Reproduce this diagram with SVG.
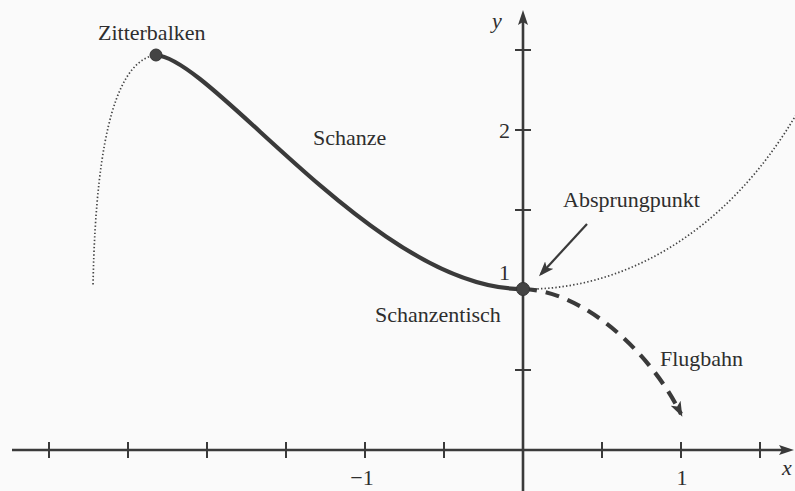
<svg xmlns="http://www.w3.org/2000/svg" width="795" height="491" viewBox="0 0 795 491">
  <defs>
    <style>
      .txt { font-family: "Liberation Serif", "Times New Roman", serif; font-size: 22px; fill: #2e2e2e; }
      .ital { font-style: italic; }
      .axis { stroke: #3a3a3a; stroke-width: 2.6; fill: none; }
      .tick { stroke: #3a3a3a; stroke-width: 2; fill: none; }
      .solid { stroke: #3a3a3a; stroke-width: 4.2; fill: none; stroke-linecap: round; }
      .dotted { stroke: #444; stroke-width: 1.7; fill: none; stroke-dasharray: 1.4 2.2; }
      .dashed { stroke: #3a3a3a; stroke-width: 4.2; fill: none; stroke-dasharray: 14 9; }
      .pointer { stroke: #3a3a3a; stroke-width: 2.2; fill: none; }
      .dot { fill: #444; stroke: #333; stroke-width: 1; }
    </style>
    <marker id="axArrow" viewBox="0 0 15 10" refX="7" refY="5" markerWidth="15" markerHeight="10" orient="auto" markerUnits="userSpaceOnUse">
      <path d="M0,0 L15,5 L0,10 L3,5 z" fill="#3a3a3a"/>
    </marker>
    <marker id="ptrArrow" viewBox="0 0 15 11" refX="12" refY="5.5" markerWidth="15" markerHeight="11" orient="auto" markerUnits="userSpaceOnUse">
      <path d="M0,0 L15,5.5 L0,11 L3.5,5.5 z" fill="#3a3a3a"/>
    </marker>
  </defs>

  <rect x="0" y="0" width="795" height="491" fill="#fafafa"/>

  <!-- coordinate system -->
  <g id="axes">
    <line class="axis" x1="12" y1="450" x2="786" y2="450" marker-end="url(#axArrow)"/>
    <line class="axis" x1="523" y1="491" x2="523" y2="18" marker-end="url(#axArrow)"/>
    <g id="x-ticks">
      <line class="tick" x1="49" y1="442" x2="49" y2="458"/>
      <line class="tick" x1="128" y1="442" x2="128" y2="458"/>
      <line class="tick" x1="207" y1="442" x2="207" y2="458"/>
      <line class="tick" x1="286" y1="442" x2="286" y2="458"/>
      <line class="tick" x1="365" y1="442" x2="365" y2="458"/>
      <line class="tick" x1="444" y1="442" x2="444" y2="458"/>
      <line class="tick" x1="602" y1="442" x2="602" y2="458"/>
      <line class="tick" x1="681" y1="442" x2="681" y2="458"/>
      <line class="tick" x1="760" y1="442" x2="760" y2="458"/>
    </g>
    <g id="y-ticks">
      <line class="tick" x1="515" y1="370" x2="531" y2="370"/>
      <line class="tick" x1="515" y1="290" x2="531" y2="290"/>
      <line class="tick" x1="515" y1="210" x2="531" y2="210"/>
      <line class="tick" x1="515" y1="130" x2="531" y2="130"/>
      <line class="tick" x1="515" y1="50" x2="531" y2="50"/>
    </g>
    <text class="txt ital" x="497" y="28" text-anchor="middle">y</text>
    <text class="txt ital" x="782" y="475">x</text>
    <text class="txt" x="510" y="138" text-anchor="end">2</text>
    <text class="txt" x="510" y="280" text-anchor="end">1</text>
    <text class="txt" x="362" y="485" text-anchor="middle">−1</text>
    <text class="txt" x="682" y="485" text-anchor="middle">1</text>
  </g>

  <!-- curves and pointers -->
  <g id="connectors">
    <path id="left-dotted" class="dotted" d="M156,55 C120,60 96,125 93,286"/>
    <path id="right-dotted" class="dotted" d="M523,289 C615,291 725,240 800,108"/>
    <path id="schanze" class="solid" d="M156,55 C215,60 378,290 523,289"/>
    <path id="flugbahn" class="dashed" d="M523,289 C580,290 648,348 681,414" marker-end="url(#ptrArrow)"/>
    <line id="absprung-pointer" class="pointer" x1="587" y1="224" x2="541" y2="274" marker-end="url(#ptrArrow)"/>
  </g>

  <g id="zitterbalken">
    <circle class="dot" cx="156" cy="55" r="6"/>
    <text class="txt" x="98" y="40">Zitterbalken</text>
  </g>
  <g id="schanzentisch">
    <circle class="dot" cx="523" cy="289" r="6.5"/>
    <text class="txt" x="375" y="322">Schanzentisch</text>
  </g>
  <g id="schanze-label">
    <text class="txt" x="313" y="145">Schanze</text>
  </g>
  <g id="absprungpunkt">
    <text class="txt" x="563" y="207">Absprungpunkt</text>
  </g>
  <g id="flugbahn-label">
    <text class="txt" x="660" y="366">Flugbahn</text>
  </g>
</svg>
